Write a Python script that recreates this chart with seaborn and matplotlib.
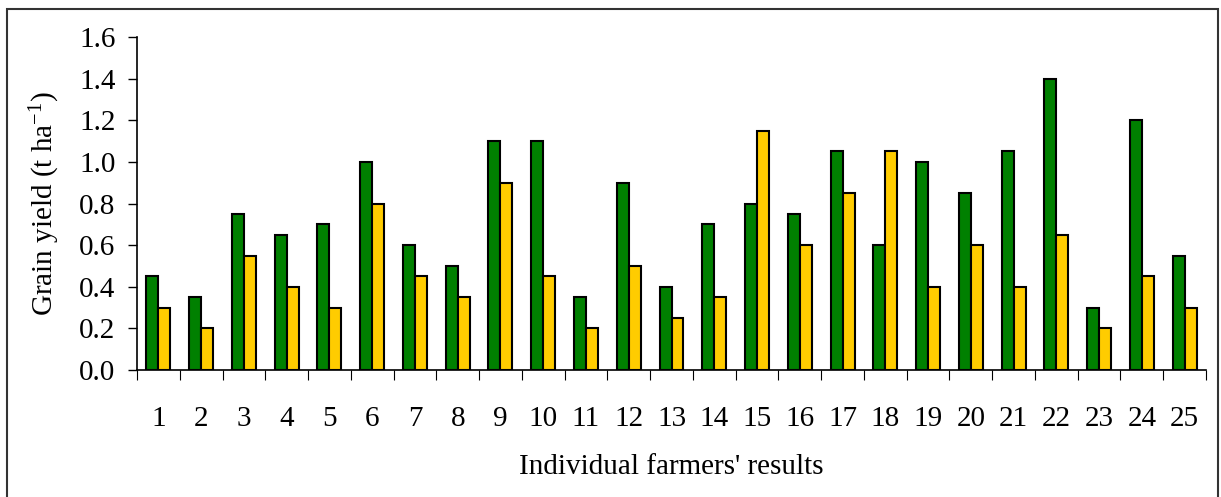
import matplotlib
matplotlib.use("Agg")
import matplotlib.pyplot as plt
from matplotlib.patches import Rectangle
from matplotlib.ticker import FixedLocator
import seaborn as sns
import pandas as pd
import numpy as np

farmers = [str(i) for i in range(1, 26)]
series_a = [0.45, 0.35, 0.75, 0.65, 0.70, 1.00, 0.60, 0.50, 1.10, 1.10, 0.35, 0.90, 0.40,
            0.70, 0.80, 0.75, 1.05, 0.60, 1.00, 0.85, 1.05, 1.40, 0.30, 1.20, 0.55]
series_b = [0.30, 0.20, 0.55, 0.40, 0.30, 0.80, 0.45, 0.35, 0.90, 0.45, 0.20, 0.50, 0.25,
            0.35, 1.15, 0.60, 0.85, 1.05, 0.40, 0.60, 0.40, 0.65, 0.20, 0.45, 0.30]
series_names = ["Series 1", "Series 2"]
yticks = [0.0, 0.2, 0.4, 0.6, 0.8, 1.0, 1.2, 1.4, 1.6]

df = pd.DataFrame({
    "farmer": farmers * 2,
    "series": [series_names[0]] * len(farmers) + [series_names[1]] * len(farmers),
    "yield": series_a + series_b,
})

sns.set_style("white")
plt.rcParams["font.family"] = ["Liberation Serif", "DejaVu Serif"]
plt.rcParams["mathtext.fontset"] = "custom"
plt.rcParams["mathtext.rm"] = "Liberation Serif"
plt.rcParams["mathtext.it"] = "Liberation Serif"
plt.rcParams["text.color"] = "black"
plt.rcParams["axes.labelcolor"] = "black"
plt.rcParams["xtick.color"] = "black"
plt.rcParams["ytick.color"] = "black"

W, H = 1221, 497
FS = 21
fig = plt.figure(figsize=(W / 100, H / 100), dpi=100)
ax = fig.add_axes([137 / W, (H - 370) / H, (1206 - 137) / W, (370 - 37) / H])

sns.barplot(data=df, x="farmer", y="yield", hue="series", order=farmers,
            hue_order=series_names, palette=["#008000", "#FFCC00"],
            saturation=1, width=0.56, gap=0, edgecolor="black", linewidth=1.5,
            legend=False, ax=ax)

ax.set_xlim(-0.5, len(farmers) - 0.5)
ax.set_ylim(0, 1.6)
ax.set_yticks(yticks)
ax.set_yticklabels([f"{v:.1f}" for v in yticks])
ax.xaxis.set_minor_locator(FixedLocator(np.arange(-0.5, len(farmers), 1.0)))

for s in ["top", "right"]:
    ax.spines[s].set_visible(False)
for s in ["left", "bottom"]:
    ax.spines[s].set_color("black")
    ax.spines[s].set_linewidth(1.2)

ax.tick_params(axis="y", which="major", left=True, direction="out", length=6.5,
               width=1.0, color="black", labelcolor="black", labelsize=FS, pad=9)
ax.tick_params(axis="x", which="major", bottom=False, length=0, labelsize=FS,
               labelcolor="black", pad=26)
ax.tick_params(axis="x", which="minor", bottom=True, direction="out", length=7,
               width=0.8, color="black")

ax.set_xlabel("Individual farmers' results", fontsize=FS, labelpad=16, color="black")
ax.set_ylabel("Grain yield (t ha$^{-1}$)", fontsize=FS, labelpad=12, color="black")
ax.grid(False)

fig.add_artist(Rectangle((7 / W, -0.02), (1218 - 7) / W, (H - 9) / H + 0.02,
                         transform=fig.transFigure, fill=False,
                         edgecolor="#333333", linewidth=1.5))

fig.savefig("out.png", dpi=100, facecolor="white")
